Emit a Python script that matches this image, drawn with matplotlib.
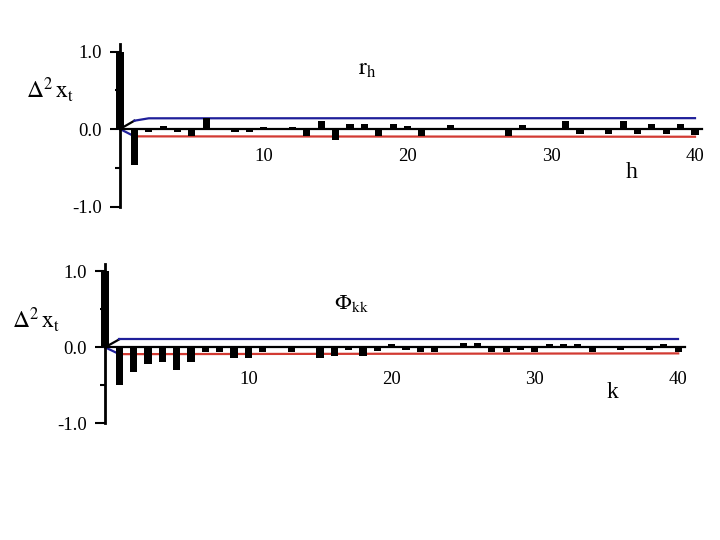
import matplotlib.pyplot as plt
import numpy as np

plt.rcParams['font.family'] = ['Liberation Serif', 'DejaVu Serif']
plt.rcParams['mathtext.fontset'] = 'stix'

# autocorrelations r_h of the second difference, lags 0..40
acf_vals = [1.0, -0.47, -0.04, 0.04, -0.04, -0.09, 0.14, 0.0, -0.04, -0.04,
            0.03, 0.0, 0.03, -0.09, 0.10, -0.14, 0.06, 0.06, -0.09, 0.06,
            0.04, -0.09, 0.0, 0.05, 0.0, 0.0, 0.0, -0.09, 0.05, 0.0,
            0.0, 0.10, -0.07, 0.0, -0.06, 0.10, -0.06, 0.06, -0.06, 0.06,
            -0.08]
# partial autocorrelations Phi_kk, lags 0..40
pacf_vals = [1.0, -0.50, -0.33, -0.22, -0.19, -0.30, -0.20, -0.06, -0.06, -0.14,
             -0.14, -0.06, 0.0, -0.06, 0.0, -0.14, -0.12, -0.04, -0.11, -0.05,
             0.04, -0.04, -0.06, -0.06, 0.0, 0.06, 0.06, -0.06, -0.06, -0.04,
             -0.06, 0.04, 0.04, 0.04, -0.06, 0.0, -0.04, 0.0, -0.04, 0.04,
             -0.06]

# confidence bands
acf_up_lags = [0, 1, 2, 40]
acf_up = [0.0, 0.107, 0.138, 0.14]
acf_lo_lags = [0, 1, 40]
acf_lo = [0.0, -0.095, -0.10]
pacf_up_lags = [0, 1, 40]
pacf_up = [0.0, 0.105, 0.105]
pacf_lo_lags = [0, 1, 40]
pacf_lo = [0.0, -0.09, -0.08]

xticks = [10, 20, 30, 40]
yticks = [-1.0, 0.0, 1.0]
ytick_labels = ['-1.0', '0.0', '1.0']

W, H = 720, 540
fig = plt.figure(figsize=(7.2, 5.4), dpi=100)

BLUE = '#1f1f9a'
RED = '#d23a32'


def make_axes(x0, xs, y0, ys, xlim, ylim):
    # place axes so that data (0,0) sits at pixel (x0, y0)
    left = x0 + xs * xlim[0]
    right = x0 + xs * xlim[1]
    top = y0 - ys * ylim[1]
    bottom = y0 - ys * ylim[0]
    ax = fig.add_axes([left / W, 1 - bottom / H, (right - left) / W, (bottom - top) / H])
    ax.set_xlim(*xlim)
    ax.set_ylim(*ylim)
    return ax


def draw_panel(ax, vals, up_lags, up, lo_lags, lo, xpad):
    lags = np.arange(len(vals))
    ax.bar(lags, vals, width=0.5, color='black', zorder=3)

    # bands: first segment in a different colour, like the original
    ax.plot(up_lags[:2], up[:2], color='black', lw=1.6, zorder=2)
    ax.plot(up_lags[1:], up[1:], color=BLUE, lw=1.6, zorder=2)
    ax.plot(lo_lags[:2], lo[:2], color=BLUE, lw=1.6, zorder=2)
    ax.plot(lo_lags[1:], lo[1:], color=RED, lw=1.6, zorder=2)

    for s in ['top', 'right']:
        ax.spines[s].set_visible(False)
    ax.spines['left'].set_position(('data', 0))
    ax.spines['left'].set_bounds(-1.0, 1.1)
    ax.spines['left'].set_linewidth(2)
    ax.spines['bottom'].set_position(('data', 0))
    ax.spines['bottom'].set_bounds(0, 40.5)
    ax.spines['bottom'].set_linewidth(1.6)
    ax.spines['bottom'].set_zorder(4)

    ax.set_xticks(xticks)
    ax.set_xticklabels([str(t) for t in xticks])
    ax.tick_params(axis='x', length=0, pad=xpad, labelsize=13.5)
    ax.set_yticks(yticks)
    ax.set_yticklabels(ytick_labels)
    ax.set_yticks([-0.5, 0.5], minor=True)
    ax.tick_params(axis='y', which='major', length=7, width=1.5, pad=6, labelsize=13.5)
    ax.tick_params(axis='y', which='minor', length=3.6, width=1.5)
    ax.patch.set_visible(False)


ax1 = make_axes(120, 14.375, 129, 77.5, (-0.5, 41), (-1.05, 1.12))
draw_panel(ax1, acf_vals, acf_up_lags, acf_up, acf_lo_lags, acf_lo, 14)

ax2 = make_axes(105, 14.33, 347.3, 76, (-0.5, 41), (-1.05, 1.12))
draw_panel(ax2, pacf_vals, pacf_up_lags, pacf_up, pacf_lo_lags, pacf_lo, 17)


def ftext(x, y, s, size, **kw):
    fig.text(x / W, 1 - y / H, s, fontsize=size, ha='center', va='center', **kw)


ftext(50, 90, r'$\Delta^{2}\,\mathrm{x}_{\mathrm{t}}$', 17)
ftext(367, 70, r'$\mathrm{r}_{\mathrm{h}}$', 17)
ftext(632, 172, 'h', 17)

ftext(36, 320, r'$\Delta^{2}\,\mathrm{x}_{\mathrm{t}}$', 17)
ftext(351, 303, r'$\Phi_{\mathrm{kk}}$', 16)
ftext(612, 393, 'k', 17)

fig.savefig('out.png', dpi=100)
